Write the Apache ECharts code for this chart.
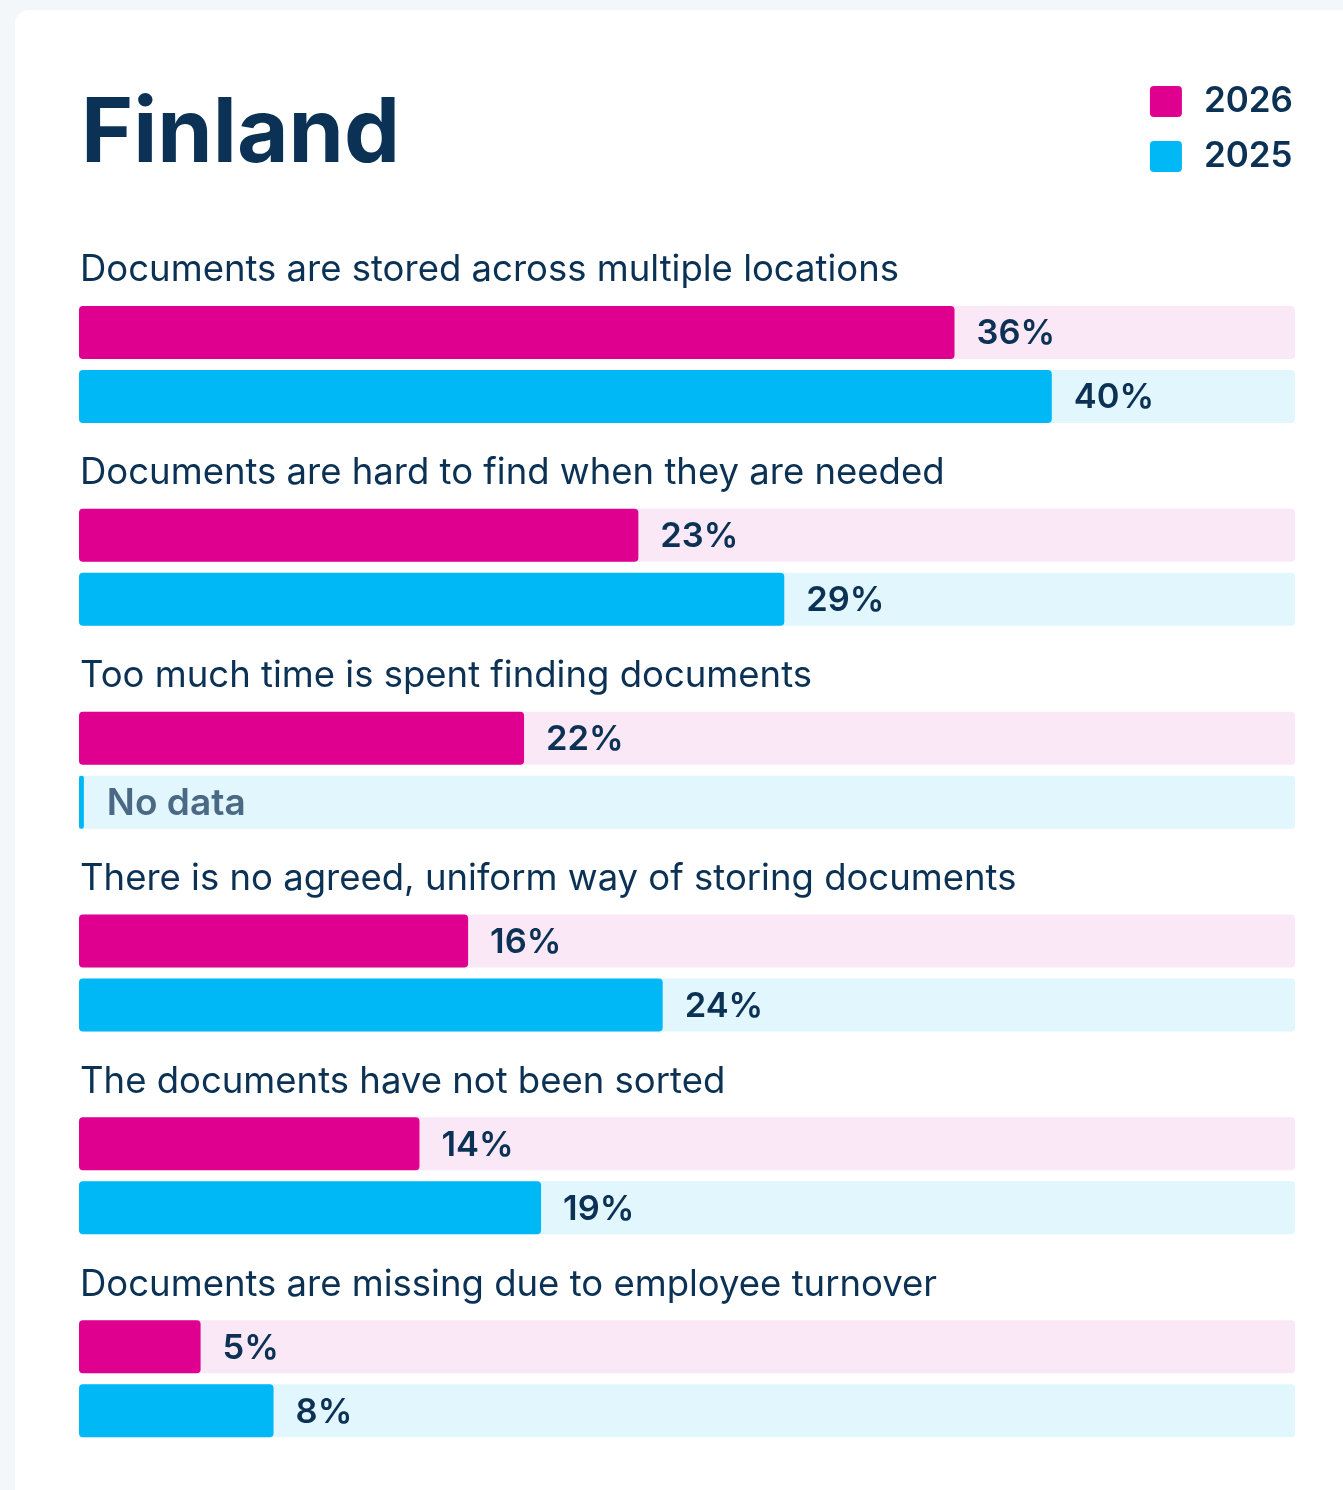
<!DOCTYPE html>
<html>
<head>
<meta charset="utf-8">
<script src="https://cdn.jsdelivr.net/npm/echarts@6/dist/echarts.min.js"></script>
<style>
  html, body { margin: 0; padding: 0; background: #f3f7fa; }
  #card { position: absolute; left: 15px; top: 10px; width: 1400px; height: 1600px; background: #ffffff; border-radius: 14px; }
  #chart { position: absolute; left: 0; top: 0; width: 1343px; height: 1490px; }
</style>
</head>
<body>
<div id="card"></div>
<div id="chart"></div>
<script>
// ---- data ----
const title = 'Finland';
const seriesNames = ['2026', '2025'];
const categories = [
  'Documents are stored across multiple locations',
  'Documents are hard to find when they are needed',
  'Too much time is spent finding documents',
  'There is no agreed, uniform way of storing documents',
  'The documents have not been sorted',
  'Documents are missing due to employee turnover'
];
// bar lengths as drawn (percent)
const values2026 = [36, 23, 18.3, 16, 14, 5];
const values2025 = [40, 29, null, 24, 19, 8];
// value labels as printed
const labels2026 = ['36%', '23%', '22%', '16%', '14%', '5%'];
const labels2025 = ['40%', '29%', null, '24%', '19%', '8%'];
const noDataText = 'No data';
const axisMax = 50;

// ---- style ----
const NAVY = '#0b3155';
const PINK = '#e0008f';
const CYAN = '#00b8f6';
const PINK_BG = '#fbe8f6';
const CYAN_BG = '#e2f6fd';
const FONT = 'Inter';

const chart = echarts.init(document.getElementById('chart'), null, { renderer: 'canvas' });

const labelBase = {
  show: true,
  position: 'right',
  distance: 22,
  offset: [0, 1.5],
  color: NAVY,
  fontFamily: FONT,
  fontWeight: 600,
  fontSize: 34.5
};

const data2025 = values2025.map(function (v) {
  if (v === null) {
    return {
      value: 0.2,
      itemStyle: { borderRadius: 2 },
      label: { formatter: noDataText, color: '#4a6984', fontSize: 37, distance: 23 }
    };
  }
  return v;
});

const legendIcon = 'path://M4,0H28Q32,0 32,4V27Q32,31 28,31H4Q0,31 0,27V4Q0,0 4,0Z';

chart.setOption({
  animation: false,
  backgroundColor: 'transparent',
  title: {
    text: title,
    left: 76,
    top: 86,
    textStyle: { color: NAVY, fontFamily: FONT, fontWeight: 700, fontSize: 89 }
  },
  legend: {
    data: seriesNames,
    orient: 'vertical',
    right: 45,
    top: 79,
    itemWidth: 32,
    itemHeight: 31,
    itemGap: 20,
    icon: legendIcon,
    selectedMode: false,
    textStyle: { color: NAVY, fontFamily: FONT, fontWeight: 600, fontSize: 35, lineHeight: 31, padding: [0, 0, 0, 17] }
  },
  grid: { left: 79, right: 48, top: 263.1, bottom: 9.9, containLabel: false },
  xAxis: { type: 'value', min: 0, max: axisMax, show: false },
  yAxis: {
    type: 'category',
    data: categories,
    inverse: true,
    axisLine: { show: false },
    axisTick: { show: false },
    splitLine: { show: false },
    axisLabel: {
      inside: true,
      interval: 0,
      margin: 1,
      align: 'left',
      verticalAlign: 'middle',
      formatter: function (v) { return '{t|' + v + '}\n{s| }'; },
      rich: {
        t: { color: NAVY, fontFamily: FONT, fontWeight: 400, fontSize: 36.5, lineHeight: 44 },
        s: { fontSize: 10, lineHeight: 188 }
      }
    },
    z: 10
  },
  series: [
    {
      name: seriesNames[0],
      type: 'bar',
      data: values2026,
      barWidth: 53,
      barGap: '20.75%',
      itemStyle: { color: PINK, borderRadius: 4 },
      showBackground: true,
      backgroundStyle: { color: PINK_BG, borderRadius: 4 },
      label: Object.assign({}, labelBase, { formatter: function (p) { return labels2026[p.dataIndex]; } })
    },
    {
      name: seriesNames[1],
      type: 'bar',
      data: data2025,
      barWidth: 53,
      barGap: '20.75%',
      itemStyle: { color: CYAN, borderRadius: 4 },
      showBackground: true,
      backgroundStyle: { color: CYAN_BG, borderRadius: 4 },
      label: Object.assign({}, labelBase, { formatter: function (p) { return labels2025[p.dataIndex] || noDataText; } })
    }
  ]
});
</script>
</body>
</html>
